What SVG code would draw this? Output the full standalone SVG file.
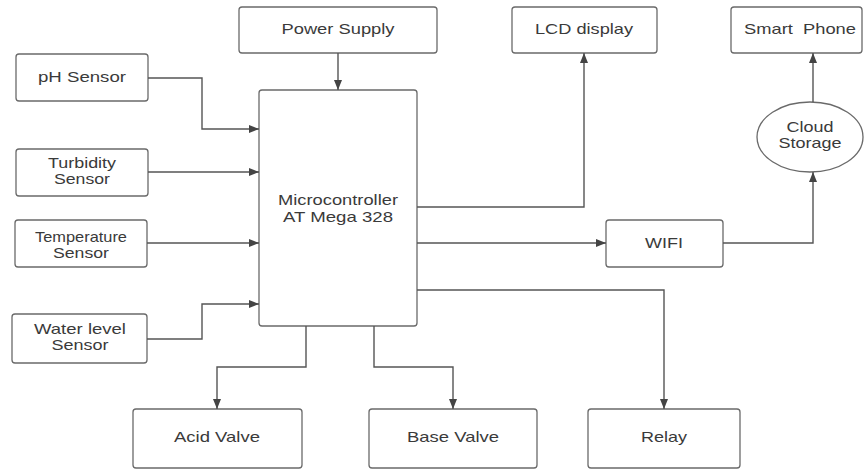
<svg xmlns="http://www.w3.org/2000/svg" width="864" height="470" viewBox="0 0 864 470">
<style>
.box{fill:#fff;stroke:#6a6a6a;stroke-width:1.3}
.lbl{font-family:"Liberation Sans",Arial,sans-serif;font-size:14.4px;fill:#3a3a3a;text-anchor:middle}
.wire{fill:none;stroke:#555;stroke-width:1.4}
</style>
<defs>
<marker id="ah" viewBox="0 0 10 8" refX="10" refY="4" markerWidth="10" markerHeight="8" markerUnits="userSpaceOnUse" orient="auto">
<path d="M0,0 L10,4 L0,8 Z" fill="#444"/>
</marker>
</defs>
<rect width="864" height="470" fill="#fff"/>
<g id="power-supply"><rect class="box" x="239" y="7" width="198" height="46" rx="3"/><text class="lbl" x="338" y="34" textLength="113" lengthAdjust="spacingAndGlyphs">Power Supply</text></g>
<g id="lcd-display"><rect class="box" x="512" y="7" width="145" height="46" rx="3"/><text class="lbl" x="584" y="34" textLength="98" lengthAdjust="spacingAndGlyphs">LCD display</text></g>
<g id="smart-phone"><rect class="box" x="731" y="7" width="131" height="46" rx="3"/><text class="lbl" x="800" y="34" textLength="112" lengthAdjust="spacingAndGlyphs" xml:space="preserve">Smart  Phone</text></g>
<g id="ph-sensor"><rect class="box" x="16" y="54" width="132" height="47" rx="3"/><text class="lbl" x="82" y="82" textLength="88" lengthAdjust="spacingAndGlyphs">pH Sensor</text></g>
<g id="turbidity-sensor"><rect class="box" x="16" y="149" width="132" height="47" rx="3"/><text class="lbl" x="82" y="168" textLength="68" lengthAdjust="spacingAndGlyphs">Turbidity</text><text class="lbl" x="82" y="184" textLength="56" lengthAdjust="spacingAndGlyphs">Sensor</text></g>
<g id="temperature-sensor"><rect class="box" x="15" y="220" width="132" height="47" rx="3"/><text class="lbl" x="81" y="242" textLength="92" lengthAdjust="spacingAndGlyphs">Temperature</text><text class="lbl" x="81" y="258" textLength="56" lengthAdjust="spacingAndGlyphs">Sensor</text></g>
<g id="water-level-sensor"><rect class="box" x="12" y="314" width="135" height="49" rx="3"/><text class="lbl" x="80" y="334" textLength="92" lengthAdjust="spacingAndGlyphs">Water level</text><text class="lbl" x="80" y="350" textLength="57" lengthAdjust="spacingAndGlyphs">Sensor</text></g>
<g id="microcontroller"><rect class="box" x="259" y="90" width="158" height="236" rx="3"/><text class="lbl" x="338" y="205" textLength="120" lengthAdjust="spacingAndGlyphs">Microcontroller</text><text class="lbl" x="338" y="222" textLength="110" lengthAdjust="spacingAndGlyphs">AT Mega 328</text></g>
<g id="wifi"><rect class="box" x="606" y="220" width="117" height="47" rx="3"/><text class="lbl" x="664" y="248" textLength="38" lengthAdjust="spacingAndGlyphs">WIFI</text></g>
<g id="cloud-storage"><ellipse class="box" cx="810" cy="137" rx="53" ry="35"/><text class="lbl" x="810" y="132" textLength="47" lengthAdjust="spacingAndGlyphs">Cloud</text><text class="lbl" x="810" y="148" textLength="63" lengthAdjust="spacingAndGlyphs">Storage</text></g>
<g id="acid-valve"><rect class="box" x="133" y="409" width="169" height="59" rx="3"/><text class="lbl" x="217" y="442" textLength="86" lengthAdjust="spacingAndGlyphs">Acid Valve</text></g>
<g id="base-valve"><rect class="box" x="369" y="409" width="168" height="59" rx="3"/><text class="lbl" x="453" y="442" textLength="92" lengthAdjust="spacingAndGlyphs">Base Valve</text></g>
<g id="relay"><rect class="box" x="588" y="409" width="152" height="59" rx="3"/><text class="lbl" x="664" y="442" textLength="46" lengthAdjust="spacingAndGlyphs">Relay</text></g>
<g id="connectors">
<path class="wire" marker-end="url(#ah)" d="M338,53 V90"/>
<path class="wire" marker-end="url(#ah)" d="M148,78 H202 V129 H259"/>
<path class="wire" marker-end="url(#ah)" d="M148,172 H259"/>
<path class="wire" marker-end="url(#ah)" d="M147,243 H259"/>
<path class="wire" marker-end="url(#ah)" d="M147,339 H202 V304 H259"/>
<path class="wire" marker-end="url(#ah)" d="M417,207 H584 V53"/>
<path class="wire" marker-end="url(#ah)" d="M417,243 H606"/>
<path class="wire" marker-end="url(#ah)" d="M723,243 H813 V172"/>
<path class="wire" marker-end="url(#ah)" d="M813,102 V53"/>
<path class="wire" marker-end="url(#ah)" d="M306,326 V367 H217 V409"/>
<path class="wire" marker-end="url(#ah)" d="M374,326 V367 H453 V409"/>
<path class="wire" marker-end="url(#ah)" d="M417,290 H664 V409"/>
</g>
</svg>
